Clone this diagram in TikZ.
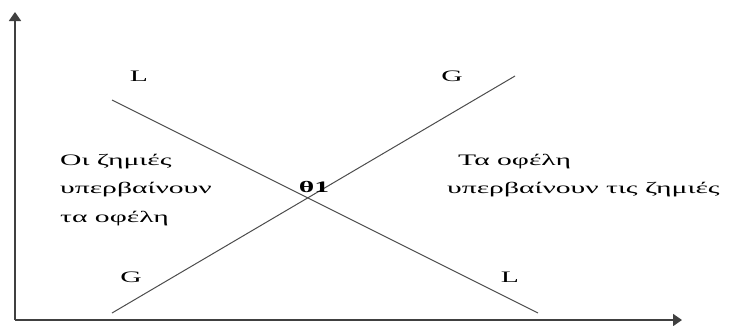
\documentclass[tikz,border=0pt]{standalone}
\usepackage{fontspec}
\setmainfont{Liberation Serif}
\newfontfamily\widefont[FakeStretch=1.85]{Liberation Serif}
\usetikzlibrary{arrows.meta,positioning}

\begin{document}
\begin{tikzpicture}[
			x=1pt, y=-1pt,
			axis/.style={-{Triangle[length=9pt, width=12pt]}, line width=1.8pt, black!75},
			curve/.style={line width=1pt, black!70},
			lbl/.style={font=\widefont\fontsize{16}{20}\selectfont, inner sep=0pt},
			txt/.style={font=\widefont\fontsize{16}{28.5}\selectfont, align=left, inner sep=0pt, anchor=north west}
			]
			\useasboundingbox (0,0) rectangle (746,325);
			\coordinate (o) at (15,320);
			\coordinate (ytip) at (15,12);
			\coordinate (xtip) at (682,320);
			\coordinate (Ltop) at (112,100);
			\coordinate (Lbot) at (538,313);
			\coordinate (Gbot) at (112,313);
			\coordinate (Gtop) at (515,76);
			\draw[axis] (o) -- (ytip);
			\draw[axis] (o) -- (xtip);
			\draw[curve] (Ltop) -- (Lbot);
			\draw[curve] (Gbot) -- (Gtop);
			\node[lbl] (l1) at (139,76) {L};
			\node[lbl] (g1) at (452,76) {G};
			\node[lbl] (g2) at (131,277) {G};
			\node[lbl] (l2) at (510,277) {L};
			\node[lbl, font=\widefont\fontsize{16}{20}\selectfont\bfseries] (th) at (314,187) {θ1};
			\node[txt] (loss) at (60,154) {Οι ζημιές\\υπερβαίνουν\\τα οφέλη};
			\node[txt] (gain) at (447,154) {\hspace{11pt}Τα οφέλη\\υπερβαίνουν τις ζημιές};
		\end{tikzpicture}
\end{document}
